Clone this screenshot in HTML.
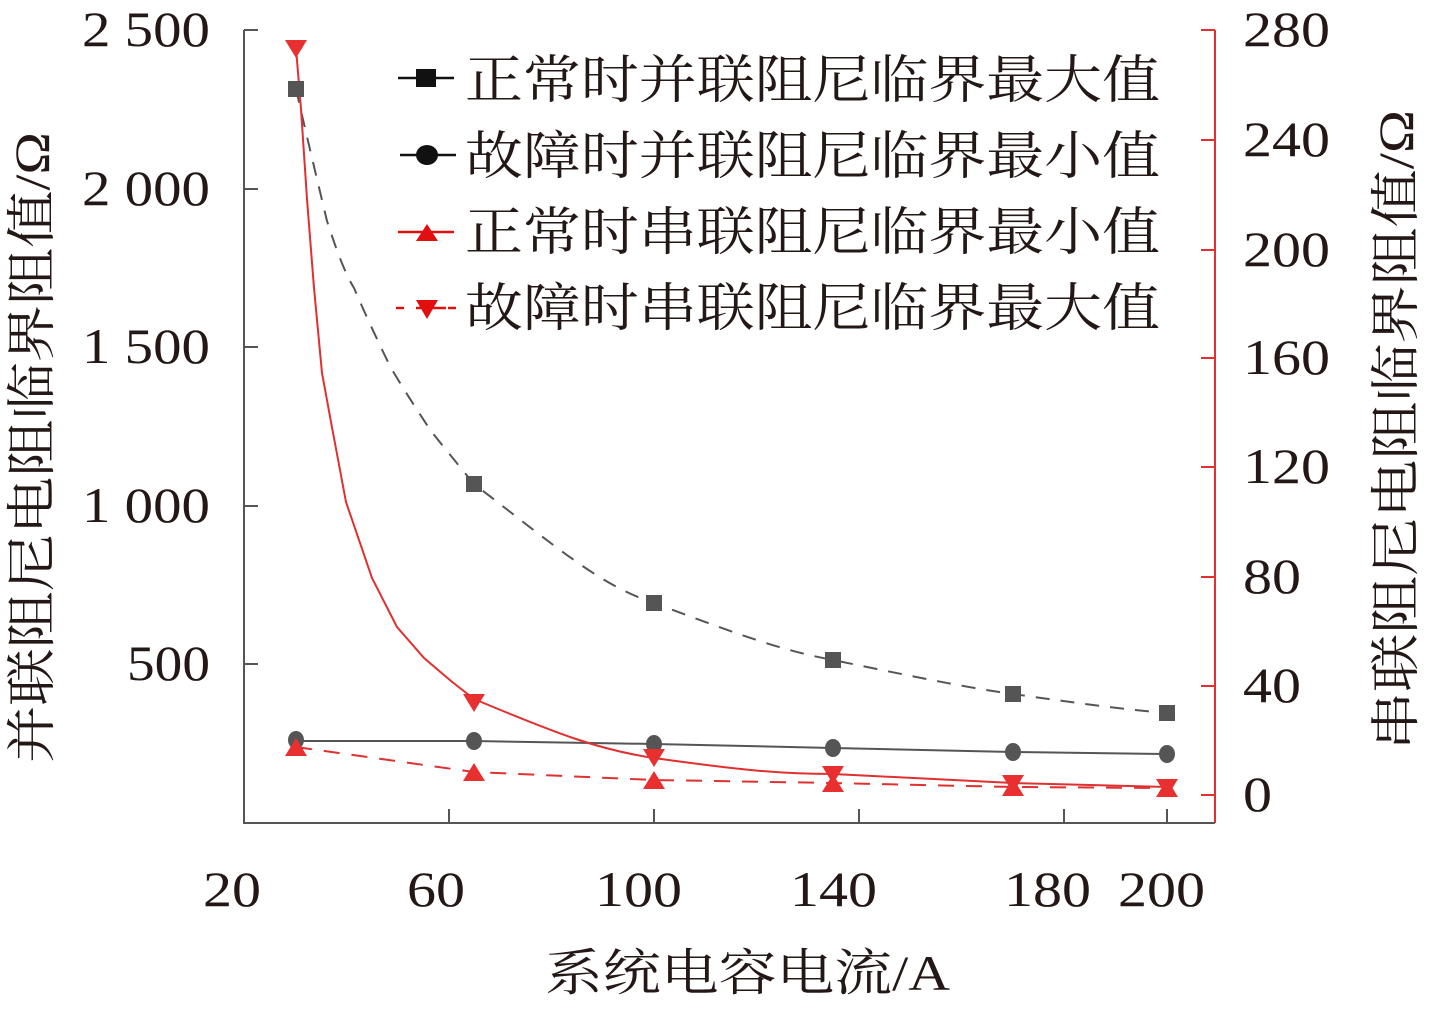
<!DOCTYPE html>
<html><head><meta charset="utf-8"><style>
html,body{margin:0;padding:0;background:#fff;}
svg{display:block;}
text{font-family:"Liberation Serif","Noto Serif CJK SC",serif;fill:#231815;}
</style></head><body>
<svg width="1434" height="1010" viewBox="0 0 1434 1010" xmlns="http://www.w3.org/2000/svg">
<g stroke="#555" stroke-width="2" fill="none">
<path d="M244,30 L244,823 L1215,823"/>
<path d="M244,30 h14 M244,189 h14 M244,347 h14 M244,506 h14 M244,664 h14"/>
<path d="M449,823 v-14 M654,823 v-14 M859,823 v-14 M1064,823 v-14 M1167,823 v-14"/>
</g>
<g stroke="#e03030" stroke-width="2" fill="none">
<path d="M1215,30 L1215,823"/>
<path d="M1215,30 h-14 M1215,140 h-14 M1215,250 h-14 M1215,358 h-14 M1215,467 h-14 M1215,577 h-14 M1215,686 h-14 M1215,795 h-14"/>
</g>
<g font-size="50" lengthAdjust="spacingAndGlyphs">
<text x="82" y="46" textLength="128" lengthAdjust="spacingAndGlyphs">2 500</text>
<text x="82" y="205" textLength="128" lengthAdjust="spacingAndGlyphs">2 000</text>
<text x="82" y="363" textLength="128" lengthAdjust="spacingAndGlyphs">1 500</text>
<text x="82" y="522" textLength="128" lengthAdjust="spacingAndGlyphs">1 000</text>
<text x="127" y="680" textLength="83" lengthAdjust="spacingAndGlyphs">500</text>
</g>
<g font-size="50">
<text x="1243" y="46" textLength="87" lengthAdjust="spacingAndGlyphs">280</text>
<text x="1243" y="156" textLength="87" lengthAdjust="spacingAndGlyphs">240</text>
<text x="1243" y="266" textLength="87" lengthAdjust="spacingAndGlyphs">200</text>
<text x="1243" y="374" textLength="87" lengthAdjust="spacingAndGlyphs">160</text>
<text x="1243" y="483" textLength="87" lengthAdjust="spacingAndGlyphs">120</text>
<text x="1243" y="593" textLength="58" lengthAdjust="spacingAndGlyphs">80</text>
<text x="1243" y="702" textLength="58" lengthAdjust="spacingAndGlyphs">40</text>
<text x="1243" y="811" textLength="29" lengthAdjust="spacingAndGlyphs">0</text>
</g>
<g font-size="50">
<text x="203" y="906" textLength="58" lengthAdjust="spacingAndGlyphs">20</text>
<text x="407" y="906" textLength="58" lengthAdjust="spacingAndGlyphs">60</text>
<text x="595" y="906" textLength="87" lengthAdjust="spacingAndGlyphs">100</text>
<text x="790" y="906" textLength="87" lengthAdjust="spacingAndGlyphs">140</text>
<text x="1004" y="906" textLength="87" lengthAdjust="spacingAndGlyphs">180</text>
<text x="1118" y="906" textLength="87" lengthAdjust="spacingAndGlyphs">200</text>
</g>
<text x="545" y="990" font-size="50" textLength="405" lengthAdjust="spacingAndGlyphs">系统电容电流/A</text>
<text transform="translate(49,763) rotate(-90)" font-size="50" textLength="631" lengthAdjust="spacingAndGlyphs">并联阻尼电阻临界阻值/Ω</text>
<text transform="translate(1413,750) rotate(-90)" font-size="50" textLength="640" lengthAdjust="spacingAndGlyphs">串联阻尼电阻临界阻值/Ω</text>

<path d="M296,89 C303,120 311,154 327,221 C338,255 346,275 354,288 C372,330 391,368 391,368 C410,400 431,431 431,431 C450,455 474,484 474,484 C560,550 600,585 654,603 C740,635 780,650 833,660 C930,680 970,688 1013,694 C1090,705 1130,710 1167,713" stroke="#555" stroke-width="2" fill="none" stroke-dasharray="14,11"/>
<path d="M296,741 L474,741 L654,744 L833,748 L1013,752 L1167,754" stroke="#555" stroke-width="2" fill="none"/>
<path d="M296,48 L301,109 L307,199 L314,288 L322,373 L331,422 L346,502 L372,578 L397,627 L424,658 L451,681 L474,699 C560,735 600,750 654,758 C740,770 780,774 833,774 L1013,783 L1167,787" stroke="#e03030" stroke-width="2" fill="none"/>
<path d="M296,747 L474,772 L654,780 L833,783 L1013,787 L1167,788" stroke="#e03030" stroke-width="2" fill="none" stroke-dasharray="16,12"/>
<g fill="#555">
<rect x="288" y="81" width="16" height="16"/><rect x="466" y="476" width="16" height="16"/><rect x="646" y="595" width="16" height="16"/><rect x="825" y="652" width="16" height="16"/><rect x="1005" y="686" width="16" height="16"/><rect x="1159" y="705" width="16" height="16"/>
<ellipse cx="296" cy="740" rx="8" ry="9"/><ellipse cx="474" cy="741" rx="8" ry="9"/><ellipse cx="654" cy="744" rx="8" ry="9"/><ellipse cx="833" cy="748" rx="8" ry="9"/><ellipse cx="1013" cy="752" rx="8" ry="9"/><ellipse cx="1167" cy="754" rx="8" ry="9"/>
</g>
<g fill="#e83030">
<path d="M285,40 h22 l-11,18z"/><path d="M463,694 h22 l-11,18z"/><path d="M643,749 h22 l-11,18z"/><path d="M822,766 h22 l-11,18z"/><path d="M1002,775 h22 l-11,18z"/><path d="M1156,779 h22 l-11,18z"/>
<path d="M285,756 h22 l-11,-18z"/><path d="M463,781 h22 l-11,-18z"/><path d="M643,789 h22 l-11,-18z"/><path d="M822,792 h22 l-11,-18z"/><path d="M1002,796 h22 l-11,-18z"/><path d="M1156,797 h22 l-11,-18z"/>
</g>
<g stroke-width="2.5">
<path d="M398,78 h56" stroke="#111"/>
<path d="M400,155 h56" stroke="#111"/>
<path d="M398,232 h56" stroke="#e01010"/>
<path d="M396,308 h8 M416,308 h30 M448,308 h8" stroke="#e01010"/>
</g>
<rect x="416" y="69" width="20" height="18" fill="#111"/>
<ellipse cx="427" cy="155" rx="11" ry="10" fill="#111"/>
<path d="M416,241 h22 l-11,-17z" fill="#e01010"/>
<path d="M416,300 h22 l-11,19z" fill="#e01010"/>
<g font-size="52">
<text x="465" y="98" textLength="695" lengthAdjust="spacingAndGlyphs">正常时并联阻尼临界最大值</text>
<text x="465" y="174" textLength="695" lengthAdjust="spacingAndGlyphs">故障时并联阻尼临界最小值</text>
<text x="465" y="250" textLength="695" lengthAdjust="spacingAndGlyphs">正常时串联阻尼临界最小值</text>
<text x="465" y="326" textLength="695" lengthAdjust="spacingAndGlyphs">故障时串联阻尼临界最大值</text>
</g>
</svg>
</body></html>
